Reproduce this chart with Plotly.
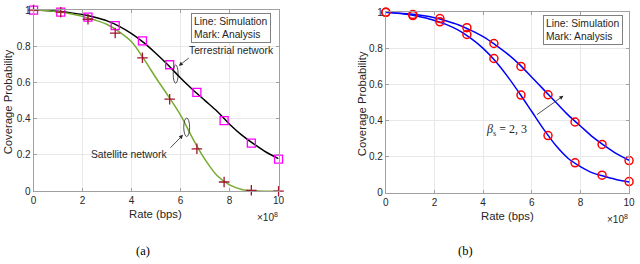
import plotly.graph_objects as go

# ---------------- data ----------------
rate_marks = [0, 1.111, 2.222, 3.333, 4.444, 5.556, 6.667, 7.778, 8.889, 10]

# panel (a) analysis marks
terr_marks = [1.0, 0.988, 0.961, 0.914, 0.830, 0.698, 0.545, 0.390, 0.265, 0.177]
sat_marks = [1.0, 0.988, 0.949, 0.873, 0.736, 0.508, 0.234, 0.051, 0.005, 0.0]

# panel (a) simulation lines
rate_line = [0, 0.5, 1, 1.5, 2, 2.5, 3, 3.5, 4, 4.5, 5, 5.5, 6, 6.5, 7, 7.5, 8, 8.5, 9, 9.5, 10]
terr_line = [1.0, 0.998, 0.993, 0.985, 0.975, 0.96, 0.94, 0.91, 0.87, 0.82, 0.76, 0.695,
             0.625, 0.56, 0.50, 0.44, 0.37, 0.31, 0.26, 0.215, 0.18]
sat_line = [1.0, 0.997, 0.99, 0.98, 0.965, 0.945, 0.92, 0.88, 0.825, 0.73, 0.625, 0.525,
            0.42, 0.29, 0.175, 0.085, 0.035, 0.01, 0.002, 0.0, 0.0]

# panel (b) analysis marks
b3_marks = [1.0, 0.988, 0.965, 0.915, 0.827, 0.700, 0.543, 0.392, 0.268, 0.178]
b2_marks = [1.0, 0.982, 0.947, 0.877, 0.744, 0.541, 0.317, 0.166, 0.097, 0.062]

# panel (b) simulation lines
b3_line = [1.0, 0.996, 0.99, 0.982, 0.97, 0.952, 0.93, 0.9, 0.865, 0.82, 0.77, 0.71,
           0.64, 0.57, 0.50, 0.43, 0.37, 0.31, 0.26, 0.215, 0.18]
b2_line = [1.0, 0.995, 0.986, 0.972, 0.955, 0.932, 0.9, 0.855, 0.8, 0.73, 0.645, 0.55,
           0.45, 0.35, 0.26, 0.19, 0.145, 0.11, 0.09, 0.072, 0.06]

x_ticks = [0, 2, 4, 6, 8, 10]
y_ticks = [0, 0.2, 0.4, 0.6, 0.8, 1]

# ---------------- figure ----------------
fig = go.Figure()

fig.add_trace(go.Scatter(x=rate_line, y=terr_line, mode="lines", line=dict(color="black", width=1.5, shape="spline"),
                         xaxis="x", yaxis="y", showlegend=False))
fig.add_trace(go.Scatter(x=rate_line, y=sat_line, mode="lines", line=dict(color="#77ac30", width=1.5, shape="spline"),
                         xaxis="x", yaxis="y", showlegend=False))
fig.add_trace(go.Scatter(x=rate_marks, y=terr_marks, mode="markers", cliponaxis=False,
                         marker=dict(symbol="square-open", size=8, color="#ff00ff", line=dict(width=1.3)),
                         xaxis="x", yaxis="y", showlegend=False))
fig.add_trace(go.Scatter(x=rate_marks, y=sat_marks, mode="markers", cliponaxis=False,
                         marker=dict(symbol="cross-thin-open", size=7.5, color="#a2142f", line=dict(width=1.3, color="#a2142f")),
                         xaxis="x", yaxis="y", showlegend=False))

fig.add_trace(go.Scatter(x=rate_line, y=b3_line, mode="lines", line=dict(color="#0000ff", width=1.5, shape="spline"),
                         xaxis="x2", yaxis="y2", showlegend=False))
fig.add_trace(go.Scatter(x=rate_line, y=b2_line, mode="lines", line=dict(color="#0000ff", width=1.5, shape="spline"),
                         xaxis="x2", yaxis="y2", showlegend=False))
fig.add_trace(go.Scatter(x=rate_marks, y=b3_marks, mode="markers", cliponaxis=False,
                         marker=dict(symbol="circle-open", size=8, color="#ff0000", line=dict(width=1.5)),
                         xaxis="x2", yaxis="y2", showlegend=False))
fig.add_trace(go.Scatter(x=rate_marks, y=b2_marks, mode="markers", cliponaxis=False,
                         marker=dict(symbol="circle-open", size=8, color="#ff0000", line=dict(width=1.5)),
                         xaxis="x2", yaxis="y2", showlegend=False))

tickfont = dict(family="Liberation Sans, Arial, sans-serif", size=10, color="#262626")
axis_common = dict(showline=True, linecolor="#a0a0a0", linewidth=1, mirror="ticks", ticks="inside",
                   ticklen=3, tickcolor="#a0a0a0", showgrid=True, gridcolor="#e8e8e8", zeroline=False,
                   tickfont=tickfont)

fig.update_layout(
    width=640, height=264, margin=dict(l=0, r=0, t=0, b=0),
    paper_bgcolor="white", plot_bgcolor="white",
    xaxis=dict(domain=[0.0484, 0.4367], range=[0, 10], tickvals=x_ticks, anchor="y", **axis_common),
    yaxis=dict(domain=[0.265, 0.984], range=[0, 1], tickvals=y_ticks, anchor="x", **axis_common),
    xaxis2=dict(domain=[0.6067, 0.9922], range=[0, 10], tickvals=x_ticks, anchor="y2", **axis_common),
    yaxis2=dict(domain=[0.259, 0.975], range=[0, 1], tickvals=y_ticks, anchor="x2", **axis_common),
)

lab = dict(family="Liberation Sans, Arial, sans-serif", size=11.3, color="#262626")
anns = []
# axis titles
for t, xp, yp in [("Rate (bps)", 155, 218), ("Rate (bps)", 512, 220)]:
    anns.append(dict(text=t, x=xp / 640, y=1 - yp / 264, xref="paper", yref="paper",
                     showarrow=False, font=lab, xanchor="center", yanchor="middle"))
anns.append(dict(text="Coverage Probability", x=6 / 640, y=1 - 100 / 264, xref="paper", yref="paper",
                 showarrow=False, font=lab, textangle=-90, xanchor="center", yanchor="middle"))
anns.append(dict(text="Coverage Probability", x=364 / 640, y=1 - 102 / 264, xref="paper", yref="paper",
                 showarrow=False, font=lab, textangle=-90, xanchor="center", yanchor="middle"))
# x10^8
for xp, yp in [(268, 221), (623, 223)]:
    anns.append(dict(text="×10<sup>8</sup>", x=xp / 640, y=1 - yp / 264, xref="paper", yref="paper",
                     showarrow=False, font=dict(family="Liberation Sans, Arial, sans-serif", size=10, color="#262626"),
                     xanchor="center", yanchor="middle"))
# captions
for t, xp in [("(a)", 142), ("(b)", 469)]:
    anns.append(dict(text=t, x=xp / 640, y=1 - 257 / 264, xref="paper", yref="paper", showarrow=False,
                     font=dict(family="Liberation Serif, Times New Roman, serif", size=12.5, color="black"),
                     xanchor="center", yanchor="middle"))
# legend boxes
box_font = dict(family="Liberation Sans, Arial, sans-serif", size=10.3, color="#262626")
anns.append(dict(text="Line: Simulation<br>Mark: Analysis", x=0.97, y=0.985, xref="x domain", yref="y domain",
                 xanchor="right", yanchor="top", showarrow=False, align="left", font=box_font,
                 bordercolor="#808080", borderwidth=1, borderpad=2, bgcolor="white"))
anns.append(dict(text="Line: Simulation<br>Mark: Analysis", x=0.975, y=0.985, xref="x2 domain", yref="y2 domain",
                 xanchor="right", yanchor="top", showarrow=False, align="left", font=box_font,
                 bordercolor="#808080", borderwidth=1, borderpad=2, bgcolor="white"))
# network labels
anns.append(dict(text="Terrestrial network", x=8.06, y=0.775, xref="x", yref="y", showarrow=False, font=box_font,
                 xanchor="center", yanchor="middle"))
anns.append(dict(text="Satellite network", x=3.9, y=0.2, xref="x", yref="y", showarrow=False, font=box_font,
                 xanchor="center", yanchor="middle"))
# arrows
arrow = dict(showarrow=True, arrowhead=2, arrowsize=1, arrowwidth=0.8, arrowcolor="#262626", text="")
anns.append(dict(x=5.93, y=0.692, ax=6.40, ay=0.742, xref="x", yref="y", axref="x", ayref="y", **arrow))
anns.append(dict(x=6.10, y=0.311, ax=5.53, ay=0.232, xref="x", yref="y", axref="x", ayref="y", **arrow))
anns.append(dict(x=7.30, y=0.537, ax=6.15, ay=0.427, xref="x2", yref="y2", axref="x2", ayref="y2", **arrow))
anns.append(dict(text="<i>β</i><sub>s</sub> = 2, 3", x=4.95, y=0.345, xref="x2", yref="y2", showarrow=False,
                 font=dict(family="Liberation Serif, Times New Roman, serif", size=12, color="#262626"),
                 xanchor="center", yanchor="middle"))
fig.update_layout(annotations=anns)

# ellipses
fig.add_shape(type="circle", xref="x", yref="y", x0=5.70, x1=5.90, y0=0.596, y1=0.697,
              line=dict(color="#262626", width=0.8))
fig.add_shape(type="circle", xref="x", yref="y", x0=6.13, x1=6.37, y0=0.302, y1=0.404,
              line=dict(color="#262626", width=0.8))

fig.write_html("out.html", config={"displayModeBar": False},
               post_script="document.body.style.margin='0';document.body.style.overflow='hidden';")
